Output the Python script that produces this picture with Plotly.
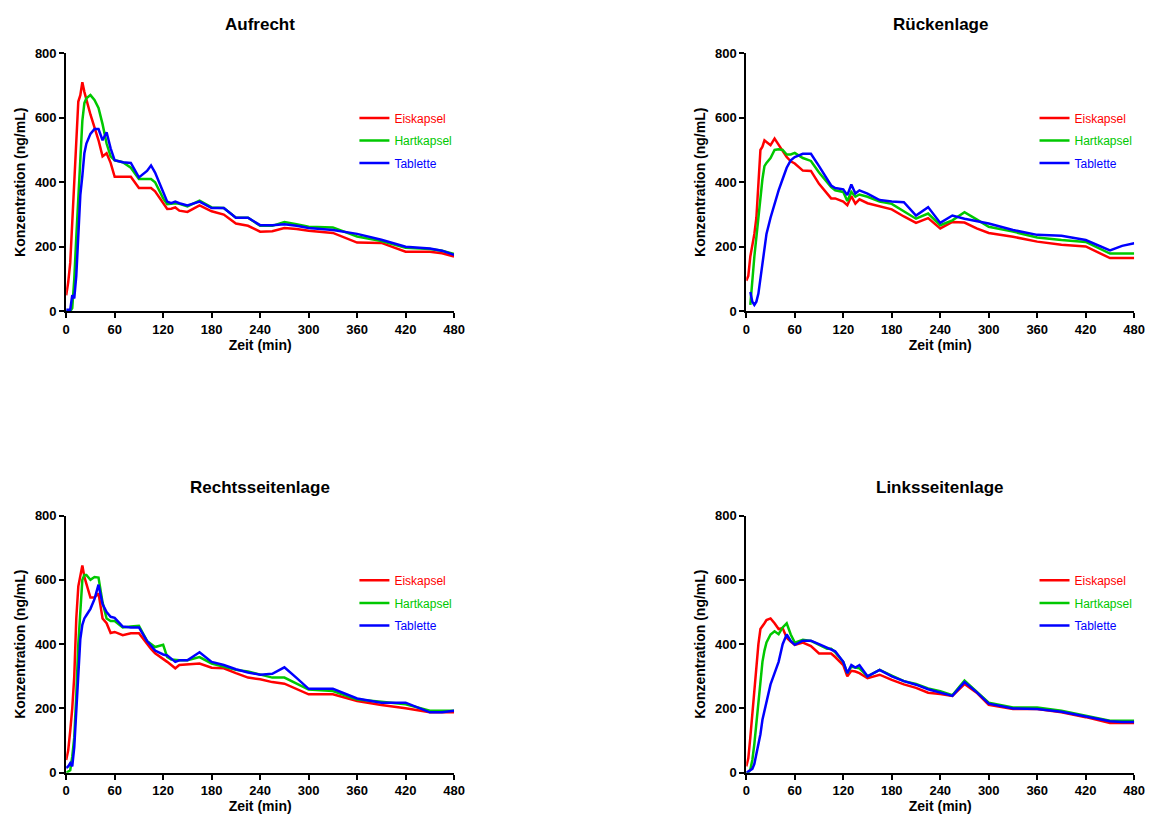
import plotly.graph_objects as go

# Sampling times (min)
zeit = [0, 2.5, 5, 7.5, 10, 12.5, 15, 17.5, 20, 22.5,
        25, 30, 35, 40, 45, 50, 55, 60, 70, 80,
        90, 100, 105, 110, 120, 125, 130, 135, 140, 150,
        165, 180, 195, 210, 225, 240, 255, 270, 285, 300,
        330, 360, 390, 420, 450, 465, 480]

# Aufrecht
aufrecht_eiskapsel = [50, 90, 150, 280, 420, 560, 650, 670, 710, 680,
                      655, 610, 570, 530, 480, 490, 460, 417, 417, 417,
                      382, 382, 382, 372, 335, 317, 318, 322, 312, 308,
                      328, 310, 300, 272, 265, 247, 248, 258, 255, 250,
                      243, 213, 212, 185, 185, 180, 170]
aufrecht_hartkapsel = [0, 0, 0, 10, 100, 230, 355, 480, 590, 645,
                       660, 670, 655, 630, 580, 520, 480, 468, 462, 445,
                       410, 410, 410, 400, 350, 332, 333, 335, 333, 325,
                       343, 322, 320, 290, 290, 265, 265, 277, 270, 262,
                       260, 232, 218, 197, 193, 188, 178]
aufrecht_tablette = [5, 5, 5, 50, 40, 110, 230, 360, 420, 490,
                     520, 550, 565, 565, 530, 555, 505, 468, 462, 460,
                     415, 435, 452, 430, 370, 340, 335, 340, 335, 328,
                     340, 320, 320, 290, 290, 267, 267, 270, 265, 258,
                     252, 240, 222, 200, 195, 188, 175]

# Rückenlage
ruecken_eiskapsel = [95, 110, 170, 200, 240, 290, 390, 500, 510, 530,
                     525, 515, 535, 517, 500, 478, 465, 458, 436, 435,
                     395, 365, 350, 350, 340, 329, 357, 334, 347, 335,
                     325, 316, 294, 274, 289, 257, 277, 275, 257, 243,
                     231, 216, 206, 201, 165, 165, 165]
ruecken_hartkapsel = [None, None, 20, 105, 170, 230, 290, 355, 410, 450,
                      460, 475, 500, 502, 500, 486, 486, 491, 475, 466,
                      430, 400, 385, 375, 370, 342, 370, 355, 362, 355,
                      340, 333, 310, 287, 303, 267, 282, 307, 285, 262,
                      247, 229, 221, 215, 179, 179, 179]
ruecken_tablette = [None, None, 60, 30, 20, 30, 55, 100, 140, 200,
                    240, 290, 335, 375, 410, 445, 468, 478, 488, 488,
                    450, 410, 390, 382, 378, 360, 393, 365, 375, 365,
                    345, 340, 338, 297, 323, 274, 297, 287, 280, 272,
                    252, 237, 234, 221, 189, 203, 211]

# Rechtsseitenlage
rechts_eiskapsel = [40, 70, 130, 200, 300, 480, 580, 620, 645, 609,
                    585, 545, 545, 558, 480, 465, 435, 438, 428, 434,
                    434, 400, 385, 372, 355, 345, 335, 325, 335, 337,
                    340, 327, 325, 310, 296, 291, 282, 277, 260, 244,
                    244, 223, 211, 201, 188, 188, 188]
rechts_hartkapsel = [0, 5, 8, 50, 110, 240, 400, 500, 600, 615,
                     615, 600, 609, 607, 530, 480, 472, 472, 452, 455,
                     457, 410, 400, 391, 398, 360, 352, 350, 350, 350,
                     360, 340, 330, 320, 315, 305, 296, 296, 277, 259,
                     254, 228, 221, 213, 193, 193, 193]
rechts_tablette = [15, 20, 30, 20, 80, 190, 300, 416, 460, 480,
                   490, 510, 540, 585, 525, 500, 485, 482, 455, 452,
                   452, 410, 395, 380, 368, 365, 355, 345, 350, 350,
                   375, 345, 335, 322, 312, 305, 308, 328, 295, 261,
                   261, 231, 218, 218, 188, 188, 193]

# Linksseitenlage
links_eiskapsel = [20, 45, 110, 185, 270, 350, 400, 447, 458, 465,
                   475, 480, 465, 447, 450, 420, 408, 398, 405, 394,
                   371, 371, 371, 360, 335, 300, 317, 315, 310, 294,
                   305, 289, 275, 264, 249, 245, 239, 276, 249, 211,
                   198, 198, 188, 173, 155, 155, 155]
links_hartkapsel = [0, 0, 10, 40, 90, 150, 230, 290, 345, 380,
                    405, 430, 440, 431, 452, 465, 430, 405, 414, 410,
                    398, 386, 386, 375, 345, 310, 330, 327, 325, 300,
                    320, 302, 285, 276, 262, 254, 241, 287, 254, 218,
                    203, 203, 193, 178, 162, 162, 162]
links_tablette = [0, 5, 8, 12, 28, 60, 90, 120, 165, 195,
                  220, 275, 310, 345, 400, 430, 410, 398, 411, 411,
                  400, 390, 385, 378, 345, 310, 335, 327, 335, 300,
                  320, 300, 285, 274, 260, 249, 239, 282, 251, 215,
                  200, 198, 190, 175, 160, 158, 158]

praeparate = ["Eiskapsel", "Hartkapsel", "Tablette"]
farben = ["#ff0000", "#00c800", "#0000ff"]

W, H = 1161, 823
FONT = "Liberation Sans, Arial, sans-serif"


def fx(px):
    """Pixel x -> paper fraction."""
    return px / W


def fy(py):
    """Pixel y (from top) -> paper fraction."""
    return 1 - py / H


panels = [
    ("Aufrecht", [aufrecht_eiskapsel, aufrecht_hartkapsel, aufrecht_tablette],
     (63, 456), (47, 310)),
    ("Rückenlage", [ruecken_eiskapsel, ruecken_hartkapsel, ruecken_tablette],
     (752, 1145), (47, 310)),
    ("Rechtsseitenlage", [rechts_eiskapsel, rechts_hartkapsel, rechts_tablette],
     (63, 456), (518, 780)),
    ("Linksseitenlage", [links_eiskapsel, links_hartkapsel, links_tablette],
     (752, 1145), (518, 780)),
]

fig = go.Figure()
layout = dict(
    width=W, height=H,
    margin=dict(l=0, r=0, t=0, b=0),
    paper_bgcolor="white", plot_bgcolor="white",
    font=dict(family=FONT, color="black"),
    showlegend=True,
    annotations=[],
)

legend_idx = 0
for i, (titel, reihen, (x0, x1), (y0, y1)) in enumerate(panels):
    n = "" if i == 0 else str(i + 1)
    xa, ya = "x" + n, "y" + n
    for j, (name, werte) in enumerate(zip(praeparate, reihen)):
        legend_idx += 1
        lname = "legend" if legend_idx == 1 else f"legend{legend_idx}"
        fig.add_trace(go.Scatter(
            x=zeit, y=werte, mode="lines", name=name,
            line=dict(color=farben[j], width=2.5),
            xaxis=xa, yaxis=ya, legend=lname, connectgaps=False,
            showlegend=True,
        ))
        layout[lname] = dict(
            x=fx(x0 + 292), y=fy(y0 + 66 + 23 * j),
            xanchor="left", yanchor="middle",
            bgcolor="rgba(0,0,0,0)", borderwidth=0,
            itemwidth=30,
            font=dict(family=FONT, size=12, color=farben[j]),
        )
    axis_common = dict(
        showline=True, linecolor="black", linewidth=2,
        ticks="outside", ticklen=5, tickwidth=2, tickcolor="black",
        showgrid=False, zeroline=False,
        tickfont=dict(family=FONT, size=13, color="black", weight="bold"),
    )
    layout["xaxis" + n] = dict(
        axis_common, domain=[fx(x0), fx(x1)], range=[0, 480],
        tick0=0, dtick=60, anchor=ya,
        title=dict(text="Zeit (min)", standoff=2,
                   font=dict(family=FONT, size=14, weight="bold")),
    )
    layout["yaxis" + n] = dict(
        axis_common, domain=[fy(y1), fy(y0)], range=[0, 800],
        tick0=0, dtick=200, anchor=xa,
        title=dict(text="Konzentration (ng/mL)", standoff=6,
                   font=dict(family=FONT, size=14, weight="bold")),
    )
    layout["annotations"].append(dict(
        text=f"<b>{titel}</b>", x=fx((x0 + x1) / 2), y=fy(y0 - 29),
        xref="paper", yref="paper", showarrow=False,
        xanchor="center", yanchor="middle",
        font=dict(family=FONT, size=17, color="black"),
    ))

fig.update_layout(**layout)
fig.write_html("out.html")
